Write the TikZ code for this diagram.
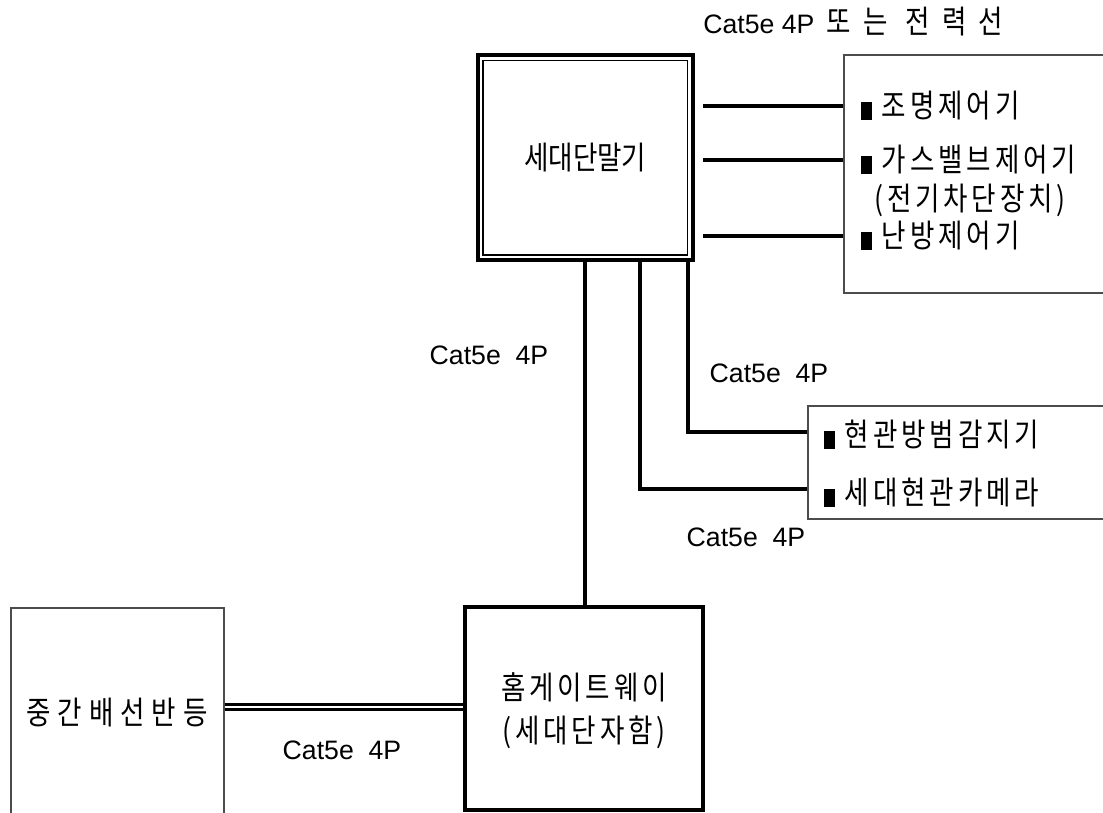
\documentclass[tikz,border=0pt]{standalone}
\usepackage{fontspec}
\setmainfont{Liberation Sans}
\newfontfamily\kr[FakeStretch=0.83,LetterSpace=12]{Noto Sans CJK KR}
\newcommand{\blk}{\rule[-1.5pt]{8pt}{13.5pt}\hspace{7.5pt}}

\begin{document}
\begin{tikzpicture}[x=0.75pt,y=-0.75pt,
    wire/.style={line width=3pt},
    thinbox/.style={draw=black!70,line width=0.8pt,rectangle},
    boldbox/.style={draw,line width=3pt,rectangle},
    ktext/.style={font=\kr\fontsize{24}{32}\selectfont,inner sep=0pt},
    ltext/.style={font=\fontsize{20}{24}\selectfont,inner sep=0pt}]
    \useasboundingbox (0,0) rectangle (1103,813);
    \node[boldbox,minimum width=161.6pt,minimum height=154.1pt,ktext,font=\kr\fontsize{24}{32}\selectfont\addfontfeature{LetterSpace=0}] (term) at (585.25,157.75) {세대단말기};
    \draw[line width=1.3pt] ([shift={(7.5,7.5)}]term.north west) rectangle ([shift={(-7.5,-7.5)}]term.south east);
    \node[thinbox,minimum width=214.5pt,minimum height=178.5pt] (ctl) at (987,174) {};
    \node[thinbox,minimum width=241.5pt,minimum height=84.75pt] (sens) at (969,462.5) {};
    \node[boldbox,minimum width=178.5pt,minimum height=152.6pt] (gw) at (583.7,708.3) {};
    \node[thinbox,minimum width=159.75pt,minimum height=174pt] (mdf) at (117.5,724) {};
    \node[ktext,align=center] (gwtxt) at (584,711) {홈게이트웨이\\(세대단자함)};
    \node[ktext,font=\kr\fontsize{24}{32}\selectfont\addfontfeature{LetterSpace=22}] (mdftxt) at (117,713) {중간배선반등};
    \node[ktext,anchor=west] (t1) at (861,106) {\blk 조명제어기};
    \node[ktext,anchor=west] (t2) at (861,160) {\blk 가스밸브제어기};
    \node[ktext,anchor=west] (t2b) at (874,200) {(전기차단장치)};
    \node[ktext,anchor=west] (t3) at (861,236) {\blk 난방제어기};
    \node[ktext,anchor=west] (s1txt) at (824,435) {\blk 현관방범감지기};
    \node[ktext,anchor=west] (s2txt) at (824,493) {\blk 세대현관카메라};
    \node[ltext,anchor=west] (toplbl) at (703,22) {Cat5e 4P\hspace{9pt}{\kr\fontsize{24}{32}\selectfont\addfontfeature{LetterSpace=38}또는 전력선}};
    \node[ltext] (lbl1) at (489,355) {Cat5e\ \ 4P};
    \node[ltext] (lbl2) at (769,373) {Cat5e\ \ 4P};
    \node[ltext] (lbl3) at (746,537) {Cat5e\ \ 4P};
    \node[ltext] (lbl4) at (342,750) {Cat5e\ \ 4P};
    \coordinate (c1) at (703,106);
    \coordinate (c2) at (703,160);
    \coordinate (c3) at (703,236);
    \coordinate (k1) at (688,432);
    \coordinate (k2) at (640,489);
    \coordinate (lnk) at (344,707);
    \draw[wire] (c1) -- (ctl.west |- c1);
    \draw[wire] (c2) -- (ctl.west |- c2);
    \draw[wire] (c3) -- (ctl.west |- c3);
    \draw[wire] (term.south -| k1) |- (sens.west |- k1);
    \draw[wire] (term.south -| k2) |- (sens.west |- k2);
    \draw[wire] (term.south) -- (gw.north -| term.south);
    \draw[line width=2pt,double,double distance=1.3pt] (mdf.east |- lnk) -- (gw.west |- lnk);
\end{tikzpicture}
\end{document}
